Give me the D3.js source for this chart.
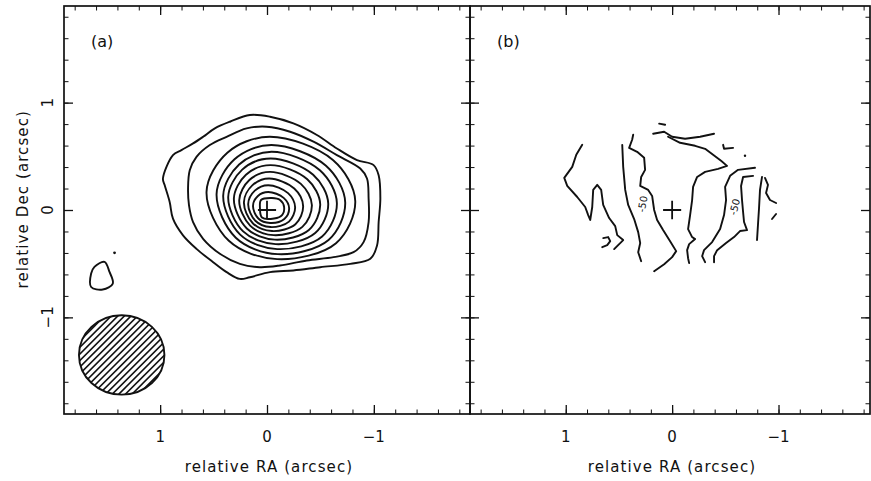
<!DOCTYPE html>
<html>
<head>
<meta charset="utf-8">
<script src="https://cdn.jsdelivr.net/npm/d3@7"></script>
<style>
  body { margin: 0; background: #fff; }
  text { font-family: "DejaVu Sans", sans-serif; fill: #111; }
</style>
</head>
<body>
<div id="chart"></div>
<script>
// tick labels
const xTicks = [1, 0, -1];
const yTicks = [1, 0, -1];
const panelNames = ["(a)", "(b)"];

// (a) intensity contours, outermost first, [RA, Dec] in arcsec
const intensityContours = [
  [[0.974,0.293],[0.880,0.511],[0.801,0.558],[0.692,0.620],[0.598,0.682],[0.488,0.760],[0.347,0.822],[0.160,0.885],
   [-0.028,0.869],[-0.247,0.807],[-0.467,0.699],[-0.654,0.573],[-0.842,0.465],[-0.998,0.418],[-1.045,0.324],[-1.061,0.106],
   [-1.045,-0.112],[-1.030,-0.330],[-0.967,-0.455],[-0.779,-0.502],[-0.498,-0.533],[-0.247,-0.563],[-0.028,-0.579],
   [0.160,-0.626],[0.254,-0.642],[0.378,-0.579],[0.504,-0.486],[0.660,-0.362],[0.786,-0.236],[0.880,-0.081],[0.911,0.075],[0.958,0.232]],
  [[0.730,0.044],[0.739,0.199],[0.723,0.371],[0.660,0.495],[0.535,0.605],[0.378,0.682],[0.191,0.760],[0.003,0.776],
   [-0.216,0.729],[-0.435,0.636],[-0.654,0.511],[-0.873,0.386],[-0.936,0.293],[-0.951,0.106],[-0.951,-0.112],[-0.904,-0.299],
   [-0.810,-0.393],[-0.623,-0.439],[-0.373,-0.470],[-0.122,-0.517],[0.066,-0.533],[0.254,-0.502],[0.441,-0.408],[0.598,-0.269],[0.692,-0.112]],
  [[0.566,0.169],[0.371,0.534],[-0.026,0.682],[-0.617,0.465],[-0.826,0.084],[-0.646,-0.309],[-0.095,-0.458],[0.357,-0.287]],
  [[0.472,0.148],[0.304,0.472],[-0.040,0.605],[-0.552,0.412],[-0.732,0.071],[-0.576,-0.279],[-0.100,-0.411],[0.292,-0.258]],
  [[0.410,0.134],[0.261,0.424],[-0.042,0.542],[-0.495,0.370],[-0.654,0.066],[-0.516,-0.247],[-0.096,-0.364],[0.251,-0.229]],
  [[0.363,0.121],[0.232,0.376],[-0.034,0.479],[-0.432,0.328],[-0.573,0.061],[-0.451,-0.214],[-0.081,-0.318],[0.223,-0.199]],
  [[0.310,0.106],[0.197,0.328],[-0.033,0.418],[-0.377,0.286],[-0.498,0.053],[-0.392,-0.186],[-0.074,-0.276],[0.189,-0.172]],
  [[0.260,0.090],[0.165,0.279],[-0.029,0.355],[-0.317,0.243],[-0.420,0.046],[-0.331,-0.157],[-0.063,-0.234],[0.158,-0.145]],
  [[0.216,0.073],[0.138,0.229],[-0.020,0.293],[-0.255,0.200],[-0.338,0.036],[-0.266,-0.133],[-0.047,-0.196],[0.133,-0.123]],
  [[0.176,0.055],[0.114,0.180],[-0.011,0.231],[-0.197,0.157],[-0.263,0.026],[-0.206,-0.108],[-0.033,-0.159],[0.109,-0.100]],
  [[0.131,0.038],[0.085,0.131],[-0.012,0.168],[-0.156,0.113],[-0.207,0.016],[-0.162,-0.084],[-0.029,-0.121],[0.081,-0.079]],
  [[0.056,0.093],[-0.047,0.112],[-0.122,0.093],[-0.160,0.028],[-0.141,-0.047],[-0.066,-0.079],[0.047,-0.070],[0.066,0.019]]
];
const smallContour = [[1.646,-0.592],[1.615,-0.530],[1.521,-0.483],[1.474,-0.577],[1.443,-0.685],[1.537,-0.741],[1.646,-0.717]];
const noiseDot = [1.427, -0.399];
const beamCentre = [1.36, -1.35];
const beamAxes = [0.40, 0.37];

// (b) velocity contours (open lines)
const velocityContours = [
  [[0.845,0.607],[0.901,0.514],[0.939,0.402],[1.014,0.299],[0.986,0.224],[0.892,0.121],[0.817,0.028],[0.789,-0.047],[0.770,-0.093],
   [0.751,0.028],[0.742,0.187],[0.704,0.234],[0.667,0.187],[0.648,0.047],[0.592,-0.075],[0.535,-0.150],[0.516,-0.234],[0.460,-0.280],[0.545,-0.364]],
  [[0.648,-0.262],[0.601,-0.252],[0.582,-0.290],[0.610,-0.327],[0.657,-0.346]],
  [[0.469,0.607],[0.460,0.402],[0.441,0.187],[0.413,0.047],[0.357,-0.084],[0.319,-0.206],[0.300,-0.308],[0.319,-0.393],[0.291,-0.477]],
  [[0.366,0.701],[0.376,0.654],[0.404,0.579],[0.329,0.542],[0.263,0.486],[0.254,0.374],[0.291,0.308],[0.300,0.224],[0.225,0.187],
   [0.188,0.131],[0.169,0.000],[0.141,-0.093],[0.085,-0.187],[0.019,-0.290],[-0.038,-0.383],[0.000,-0.439],[0.075,-0.505],[0.169,-0.570]],
  [[0.178,0.710],[0.075,0.729],[0.000,0.682],[-0.122,0.664],[-0.263,0.682],[-0.394,0.710]],
  [[0.038,0.682],[-0.075,0.626],[-0.216,0.598],[-0.310,0.570],[-0.385,0.514],[-0.460,0.458],[-0.516,0.411],[-0.432,0.383],
   [-0.310,0.355],[-0.235,0.308],[-0.197,0.215],[-0.188,0.093],[-0.169,-0.047],[-0.150,-0.178],[-0.188,-0.252],[-0.216,-0.271],
   [-0.160,-0.318],[-0.141,-0.374],[-0.150,-0.449],[-0.160,-0.495]],
  [[-0.779,0.393],[-0.620,0.374],[-0.545,0.318],[-0.498,0.215],[-0.507,0.093],[-0.488,-0.047],[-0.451,-0.178],[-0.376,-0.299],
   [-0.300,-0.374],[-0.282,-0.430],[-0.310,-0.486]],
  [[-0.761,0.318],[-0.667,0.308],[-0.648,0.224],[-0.657,0.093],[-0.667,-0.019],[-0.676,-0.112],[-0.704,-0.187],[-0.638,-0.196],
   [-0.582,-0.252],[-0.507,-0.308],[-0.423,-0.374],[-0.394,-0.430],[-0.394,-0.486]],
  [[-0.845,0.308],[-0.826,0.187],[-0.817,0.019],[-0.808,-0.121],[-0.798,-0.280]],
  [[-0.873,0.299],[-0.901,0.234],[-0.883,0.159],[-0.920,0.093],[-0.977,0.065]],
  [[-0.939,-0.084],[-0.977,-0.037]],
  [[0.122,0.804],[0.066,0.794]],
  [[-0.479,0.607],[-0.488,0.570],[-0.573,0.579]]
];
const velocityDots = [[-0.685, 0.505]];
const velocityLabels = ["-50", "-50"];
const velocityLabelPos = [[0.245, 0.05], [-0.62, 0.02]];
const velocityLabelAngle = [-80, -75];

const W = 871, H = 481;
const svg = d3.select("#chart").append("svg")
  .attr("width", W).attr("height", H);

const y = d3.scaleLinear().domain([-1.9, 1.9]).range([414, 6]);
const xa = d3.scaleLinear().domain([1.9, -1.9]).range([64, 470]);
const xb = d3.scaleLinear().domain([1.9, -1.86]).range([470, 870]);

function drawFrame(x, name) {
  const [x0, x1] = x.range();
  const [y0, y1] = y.range();
  const g = svg.append("g");

  const minorX = x.ticks(19), minorY = y.ticks(19);
  const axes = [
    [d3.axisBottom, x, minorX, xTicks, `translate(0,${y0})`],
    [d3.axisTop, x, minorX, xTicks, `translate(0,${y1})`],
    [d3.axisLeft, y, minorY, yTicks, `translate(${x0},0)`],
    [d3.axisRight, y, minorY, yTicks, `translate(${x1},0)`]
  ];
  axes.forEach(([axis, s, minor, major, tr]) => {
    g.append("g").attr("transform", tr)
      .call(axis(s).tickValues(minor).tickSize(-4.5).tickFormat(""))
      .call(a => a.select(".domain").remove())
      .selectAll("line").attr("stroke", "#111").attr("stroke-width", 1);
    g.append("g").attr("transform", tr)
      .call(axis(s).tickValues(major).tickSize(-9).tickFormat(""))
      .call(a => a.select(".domain").remove())
      .selectAll("line").attr("stroke", "#111").attr("stroke-width", 1.3);
  });

  g.append("rect")
    .attr("x", x0).attr("y", y1)
    .attr("width", x1 - x0).attr("height", y0 - y1)
    .attr("fill", "none").attr("stroke", "#111").attr("stroke-width", 1.7);

  // x tick labels
  g.selectAll(".xl").data(xTicks).join("text")
    .attr("x", d => x(d)).attr("y", 442)
    .attr("text-anchor", "middle")
    .style("font-size", "15px")
    .text(d => d < 0 ? "\u2212" + Math.abs(d) : d);

  // x title
  g.append("text")
    .attr("x", (x0 + x1) / 2 + 2).attr("y", 472)
    .attr("text-anchor", "middle")
    .style("font-size", "15px").style("letter-spacing", "1.1px")
    .text("relative RA (arcsec)");

  g.append("text")
    .attr("x", x0 + 27).attr("y", 47)
    .style("font-size", "16px")
    .text(name);

  // cross at the origin
  const c = 0.085;
  g.append("path")
    .attr("d", `M${x(c)},${y(0)}H${x(-c)}M${x(0)},${y(c)}V${y(-c)}`)
    .attr("stroke", "#111").attr("stroke-width", 1.8).attr("fill", "none");
  return g;
}

const ga = drawFrame(xa, panelNames[0]);
const gb = drawFrame(xb, panelNames[1]);

// y tick labels and title (left panel only)
svg.selectAll(".yl").data(yTicks).join("text")
  .attr("transform", d => `translate(53,${y(d)}) rotate(-90)`)
  .attr("text-anchor", "middle")
  .style("font-size", "15px")
  .text(d => d < 0 ? "\u2212" + Math.abs(d) : d);

svg.append("text")
  .attr("transform", `translate(28,${y(0.1)}) rotate(-90)`)
  .attr("text-anchor", "middle")
  .style("font-size", "15px").style("letter-spacing", "1.1px")
  .text("relative Dec (arcsec)");

// panel (a) contours
const lineA = d3.line().x(d => xa(d[0])).y(d => y(d[1]))
  .curve(d3.curveCatmullRomClosed.alpha(0.5));
svg.append("g").selectAll("path")
  .data(intensityContours.concat([smallContour]))
  .join("path")
  .attr("d", lineA)
  .attr("fill", "none").attr("stroke", "#111")
  .attr("stroke-width", 1.9).attr("stroke-linejoin", "round");

svg.append("circle")
  .attr("cx", xa(noiseDot[0])).attr("cy", y(noiseDot[1])).attr("r", 1.4)
  .attr("fill", "#111");

// beam with hatching
const bx = xa(beamCentre[0]), by = y(beamCentre[1]);
const brx = Math.abs(xa(beamAxes[0]) - xa(0)), bry = Math.abs(y(beamAxes[1]) - y(0));
svg.append("clipPath").attr("id", "beamClip")
  .append("ellipse").attr("cx", bx).attr("cy", by).attr("rx", brx).attr("ry", bry);
const hatch = svg.append("g").attr("clip-path", "url(#beamClip)");
for (let k = -brx - bry; k <= brx + bry; k += 6.6) {
  hatch.append("line")
    .attr("x1", bx + k - 60).attr("y1", by + 60)
    .attr("x2", bx + k + 60).attr("y2", by - 60)
    .attr("stroke", "#111").attr("stroke-width", 1.6);
}
svg.append("ellipse")
  .attr("cx", bx).attr("cy", by).attr("rx", brx).attr("ry", bry)
  .attr("fill", "none").attr("stroke", "#111").attr("stroke-width", 1.9);

// panel (b) velocity contours
const lineB = d3.line().x(d => xb(d[0])).y(d => y(d[1]));
svg.append("g").selectAll("path")
  .data(velocityContours)
  .join("path")
  .attr("d", lineB)
  .attr("fill", "none").attr("stroke", "#111")
  .attr("stroke-width", 1.9).attr("stroke-linejoin", "round").attr("stroke-linecap", "round");

svg.selectAll(".vd").data(velocityDots).join("circle")
  .attr("cx", d => xb(d[0])).attr("cy", d => y(d[1])).attr("r", 1.2)
  .attr("fill", "#111");

svg.selectAll(".vl").data(velocityLabels).join("text")
  .attr("transform", (d, i) => `translate(${xb(velocityLabelPos[i][0])},${y(velocityLabelPos[i][1])}) rotate(${velocityLabelAngle[i]})`)
  .attr("text-anchor", "middle")
  .style("font-size", "10px")
  .text(d => d);
</script>
</body>
</html>
